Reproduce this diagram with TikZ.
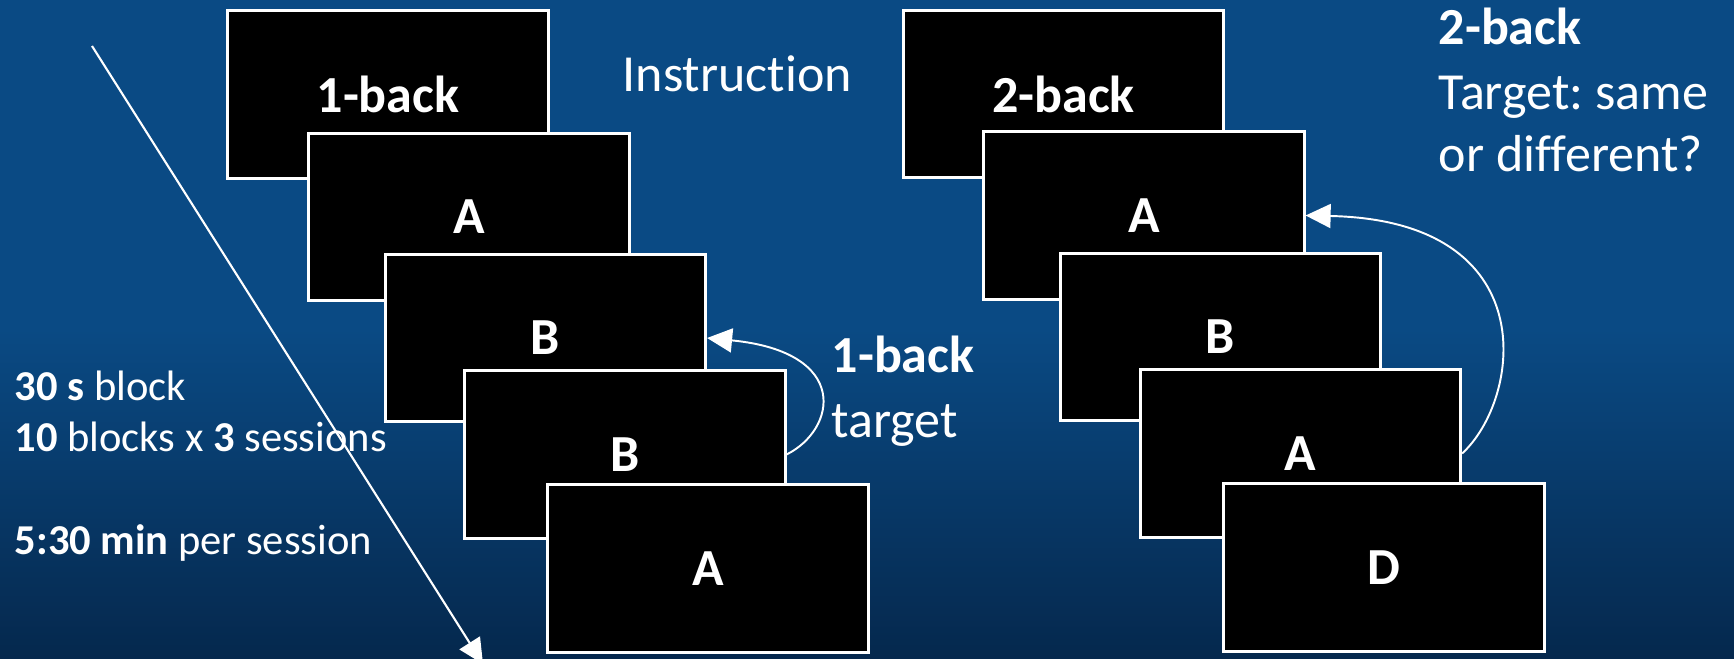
\documentclass[tikz,border=0pt]{standalone}
\usepackage{fontspec}
\setmainfont{Carlito}[RawFeature=-liga]
\usepackage{xcolor}
\usepackage{tikz}
\usetikzlibrary{arrows.meta, positioning}

\definecolor{bgtop}{HTML}{0A4882}
\definecolor{bgmid}{HTML}{0A4A84}
\definecolor{bgbot}{HTML}{05284D}

\tikzset{
    screen/.style={draw=white, fill=black, line width=0.85pt, minimum width=3.2cm,
        minimum height=1.67cm, inner sep=0pt, text=white,
        font=\fontsize{14.8}{18}\selectfont\bfseries},
    note/.style={text=white, anchor=base west, inner sep=0pt,
        font=\fontsize{14.8}{18}\selectfont},
    notebold/.style={note, font=\fontsize{14.8}{18}\selectfont\bfseries},
    small/.style={text=white, anchor=base west, inner sep=0pt,
        font=\fontsize{12.1}{14}\selectfont},
    link/.style={draw=white, line width=0.55pt, -{Triangle[length=2.5mm, width=2.4mm]}},
}

\frenchspacing
\begin{document}
\begin{tikzpicture}[x=0.01cm, y=-0.01cm]
    % Hintergrund
    \fill[bgmid] (0,0) rectangle (1734,330);
    \shade[top color=bgmid, bottom color=bgbot] (0,329) rectangle (1734,659);
    \useasboundingbox (0,0) rectangle (1734,659);
    
    % Zeitachse
    \coordinate (t0) at (92,46);
    \coordinate (t1) at (483,664);
    \draw[link, line width=0.6pt] (t0) -- (t1);
    
    % Folge 1-back
    \foreach \lbl/\cx/\cy [count=\i] in {1-back/388/94.5, A/469/217, B/545.5/338, B/625/454.5, A/708/568.5} {
        \node[screen] (L\i) at (\cx,\cy) {\lbl};
    }
    
    % Folge 2-back
    \foreach \lbl/\cx/\cy [count=\i] in {2-back/1063.5/94, A/1144/215.5, B/1220.5/337, A/1300.5/453.5, D/1384/567.5} {
        \node[screen] (R\i) at (\cx,\cy) {\lbl};
    }
    
    % Ziel-Pfeile
    \draw[link] (L4.east) .. controls +(50,-25) and +(144,14) .. (L3.east);
    \draw[link] (R4.east) .. controls +(59,-54) and +(241,5) .. (R2.east);
    
    % Beschriftungen
    \node[note] (instr) at (622,91.7) {Instruction};
    \node[notebold] (tag1) at (831,372.7) {1-back};
    \node[note] (tag1b) at (831,438) {target};
    \node[notebold] (tag2) at (1438,45) {2-back};
    \node[note] (tag2b) at (1438,110) {Target: same};
    \node[note] (tag2c) at (1438,172) {or different?};
    \node[small] (blk) at (14,401) {\textbf{30 s} block};
    \node[small] (ses) at (14,452) {\textbf{10} blocks x \textbf{3} sessions};
    \node[small] (dur) at (14,555) {\textbf{5:30 min} per session};
\end{tikzpicture}
\end{document}
